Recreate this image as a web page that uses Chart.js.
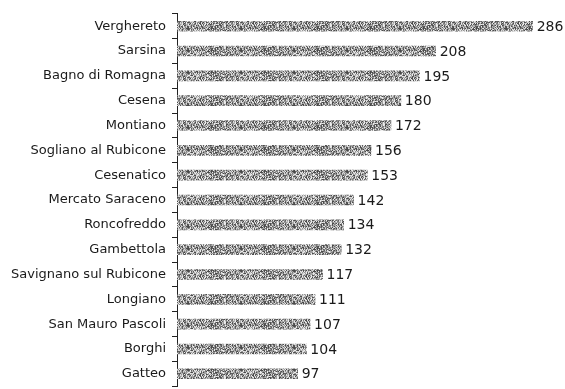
<!DOCTYPE html>
<html>
<head>
<meta charset="utf-8">
<script src="https://cdn.jsdelivr.net/npm/chart.js@4/dist/chart.umd.min.js"></script>
<style>
  html, body { margin: 0; padding: 0; background: #fff; overflow: hidden; }
  #wrap { width: 565px; height: 400px; }
</style>
</head>
<body>
<div id="wrap"><canvas id="c" width="565" height="400"></canvas></div>
<script>
// Comuni and their values, top to bottom
const comuni = [
  'Verghereto', 'Sarsina', 'Bagno di Romagna', 'Cesena', 'Montiano',
  'Sogliano al Rubicone', 'Cesenatico', 'Mercato Saraceno', 'Roncofreddo',
  'Gambettola', 'Savignano sul Rubicone', 'Longiano', 'San Mauro Pascoli',
  'Borghi', 'Gatteo'
];
const valori = [286, 208, 195, 180, 172, 156, 153, 142, 134, 132, 117, 111, 107, 104, 97];

// Speckled grey fill for the bars (fixed hash, so every render is identical)
function speckle() {
  const t = document.createElement('canvas');
  t.width = 53; t.height = 11;
  const g = t.getContext('2d');
  const shades = ['#4a4a4a', '#d8d8d8', '#7c7c7c', '#b8b8b8', '#606060', '#ececec', '#969696', '#a4a4a4'];
  for (let y = 0; y < t.height; y++) {
    for (let x = 0; x < t.width; x++) {
      const h = Math.imul((x + 1) * 374761393 ^ (y + 7) * 668265263, 1274126177) >>> 0;
      g.fillStyle = shades[(h >>> 13) % shades.length];
      g.fillRect(x, y, 1, 1);
    }
  }
  return g.createPattern(t, 'repeat');
}

// Value written just past the end of each bar
const valueLabels = {
  id: 'valueLabels',
  afterDatasetsDraw(chart) {
    const ctx = chart.ctx;
    const meta = chart.getDatasetMeta(0);
    ctx.save();
    ctx.font = '14px "DejaVu Sans", Verdana, sans-serif';
    ctx.fillStyle = '#1a1a1a';
    ctx.textAlign = 'left';
    ctx.textBaseline = 'middle';
    meta.data.forEach((bar, i) => {
      ctx.fillText(String(chart.data.datasets[0].data[i]), bar.x + 4, bar.y + 1);
    });
    ctx.restore();
  }
};

new Chart(document.getElementById('c'), {
  type: 'bar',
  data: {
    labels: comuni,
    datasets: [{
      data: valori,
      backgroundColor: speckle(),
      borderWidth: 0,
      barThickness: 10
    }]
  },
  options: {
    indexAxis: 'y',
    responsive: false,
    animation: false,
    devicePixelRatio: 1,
    layout: { padding: { top: 10, bottom: 4, left: 0, right: 0 } },
    plugins: { legend: { display: false }, tooltip: { enabled: false } },
    scales: {
      x: { display: false, min: 0, max: 312 },
      y: {
        afterFit(scale) { scale.width = 177; },
        border: { display: true, color: '#222', width: 1 },
        grid: { drawOnChartArea: false, drawTicks: true, tickLength: 5, offset: true, color: '#222' },
        ticks: {
          color: '#1a1a1a',
          padding: 6,
          font: { family: '"DejaVu Sans", Verdana, sans-serif', size: 13 }
        }
      }
    }
  },
  plugins: [valueLabels]
});
</script>
</body>
</html>
